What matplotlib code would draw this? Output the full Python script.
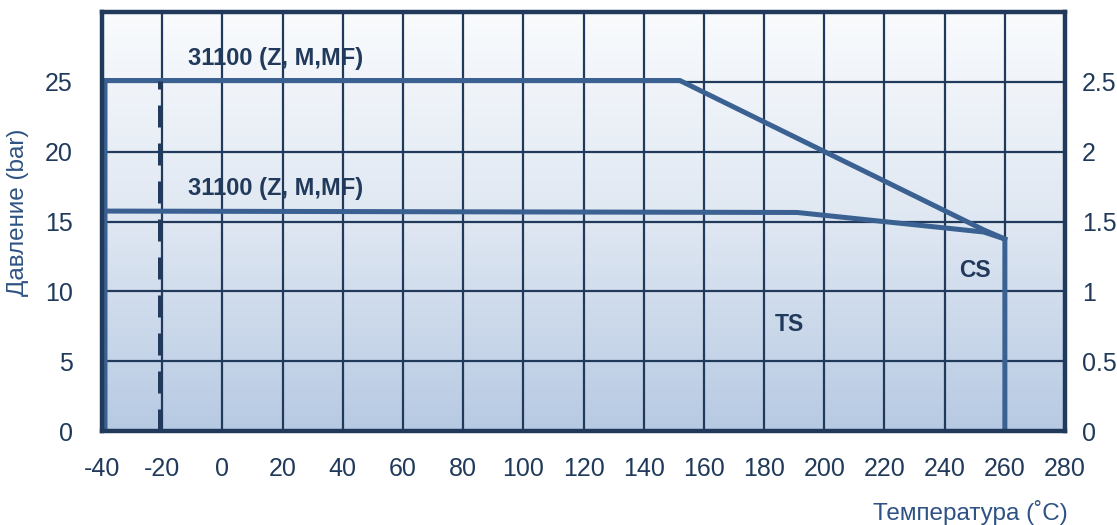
import matplotlib
matplotlib.use("Agg")
import matplotlib.pyplot as plt
import numpy as np
from matplotlib.colors import LinearSegmentedColormap

plt.rcParams["font.family"] = ["Liberation Sans", "DejaVu Sans"]
plt.rcParams["axes.unicode_minus"] = False

# pressure/temperature limits
upper_temp = [-39, -39, 152, 253, 260, 260]
upper_press = [0, 25.1, 25.1, 14.4, 13.75, 0]
lower_temp = [-39, 191, 253, 260]
lower_press = [15.75, 15.65, 14.25, 13.75]
min_temp = [-20.8, -20.8]
min_press = [0, 25.1]

x_ticks = list(range(-40, 281, 20))
y_ticks = [0, 5, 10, 15, 20, 25]
mpa_ticks = [0, 0.5, 1, 1.5, 2, 2.5]
mpa_labels = ["0", "0.5", "1", "1.5", "2", "2.5"]

NAVY = "#213a5b"
LINE = "#3a6191"
LABEL = "#2e5283"

fig = plt.figure(figsize=(11.17, 5.25), dpi=100)
ax = fig.add_axes([0.0913, 0.179, 0.8622, 0.798])
ax.set_xlim(-40, 280)
ax.set_ylim(0, 30)

# vertical gradient background
cmap = LinearSegmentedColormap.from_list("bg", ["#b7cae3", "#dfe7f2", "#f9fbfd"])
grad = np.linspace(0, 1, 256).reshape(-1, 1)
ax.imshow(grad, cmap=cmap, aspect="auto", extent=[-40, 280, 0, 30],
          origin="lower", zorder=0)

ax.set_xticks(x_ticks)
ax.set_yticks(y_ticks)
ax.grid(True, color=NAVY, linewidth=1.6, zorder=1)
ax.set_axisbelow(False)
for s in ax.spines.values():
    s.set_color(NAVY)
    s.set_linewidth(3.2)
    s.set_zorder(5)
ax.tick_params(length=0, labelsize=18, colors=NAVY)
ax.tick_params(axis="x", pad=19)
ax.tick_params(axis="y", pad=21)

ax.plot(upper_temp, upper_press, color=LINE, lw=3.6, zorder=3,
        solid_joinstyle="miter")
ax.plot(lower_temp, lower_press, color=LINE, lw=3.6, zorder=3)
ax.plot(min_temp, min_press, color=NAVY, lw=3.6, zorder=3,
        dashes=(4.4, 3.2))

ax2 = ax.twinx()
ax2.set_ylim(0, 3)
ax2.set_yticks(mpa_ticks)
ax2.set_yticklabels(mpa_labels)
ax2.tick_params(length=0, labelsize=18, colors=NAVY, pad=12)
for s in ax2.spines.values():
    s.set_visible(False)

txt = dict(color=NAVY, fontweight="bold")
ax.text(-11.5, 26.7, "31100 (Z, M,MF)", va="center", ha="left", fontsize=17, **txt)
ax.text(-11.5, 17.4, "31100 (Z, M,MF)", va="center", ha="left", fontsize=17, **txt)
ax.text(188.5, 7.6, "TS", va="center", ha="center", fontsize=16.5, **txt)
ax.text(250, 11.5, "CS", va="center", ha="center", fontsize=16.5, **txt)

fig.text(0.016, 0.596, "Давление (bar)", rotation=90, ha="center",
         va="center", fontsize=17.5, color=LABEL)
fig.text(0.956, 0.023, "Температура (˚C)", ha="right", va="center",
         fontsize=17.5, color=LABEL)

fig.savefig("out.png", dpi=100)
